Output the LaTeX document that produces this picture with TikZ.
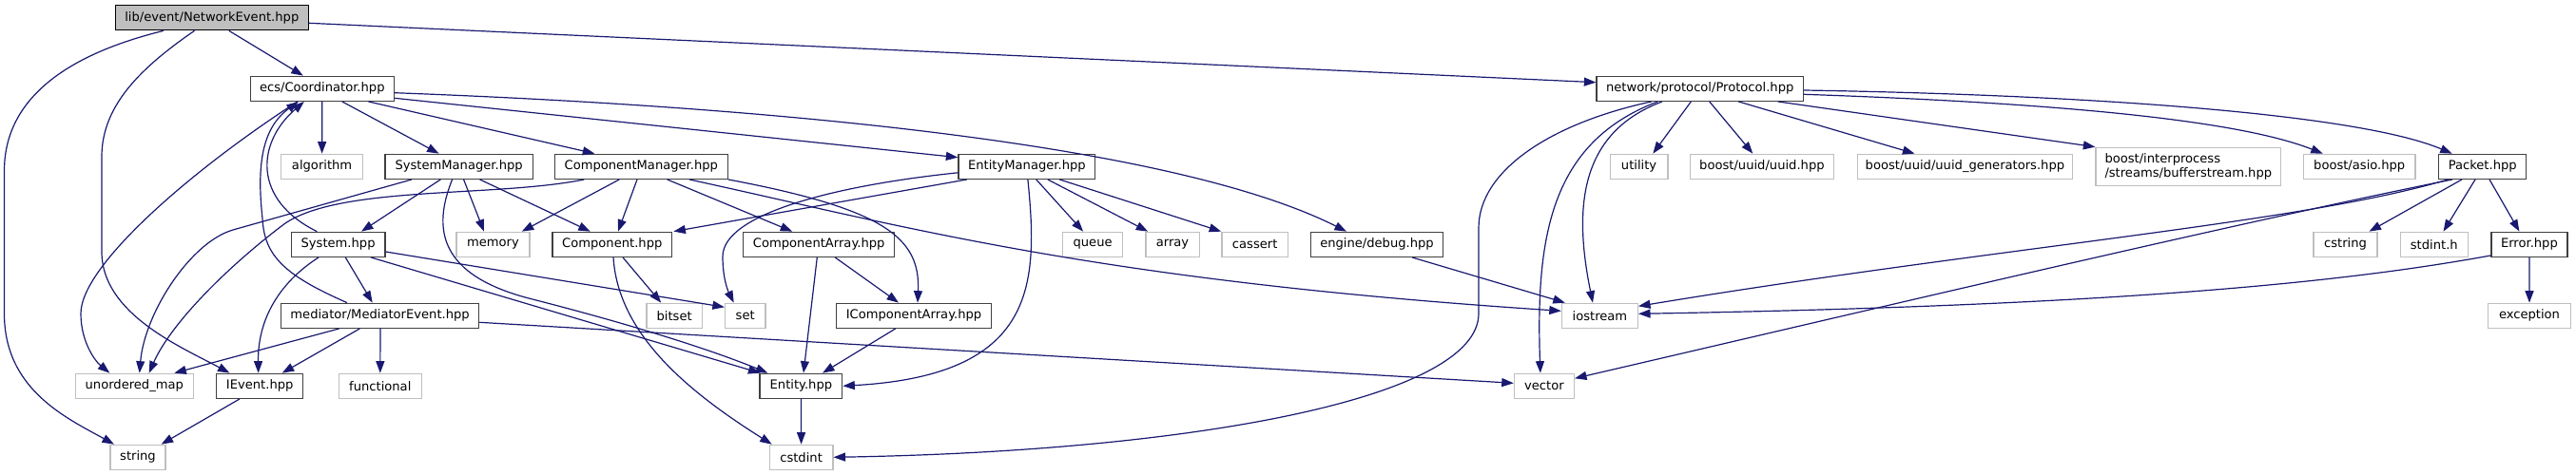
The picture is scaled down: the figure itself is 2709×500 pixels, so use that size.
\documentclass[tikz,border=0pt]{standalone}
\usepackage{fontspec}
\setmainfont{DejaVu Sans}
\usetikzlibrary{arrows.meta,calc}
\definecolor{edgec}{HTML}{191970}
\definecolor{leafc}{HTML}{BFBFBF}
\definecolor{innerc}{HTML}{404040}
\begin{document}
\begin{tikzpicture}[x=1pt,y=-1pt,
  font=\fontsize{13.1}{15}\selectfont,
  box/.style={draw=innerc, line width=1.3pt, fill=white, minimum height=26pt, inner sep=0pt},
  leaf/.style={draw=leafc, line width=1.3pt, fill=white, minimum height=26pt, inner sep=0pt},
  rootbox/.style={draw=black, fill=leafc, line width=1.3pt, minimum height=26pt, inner sep=0pt},
  edge/.style={draw=edgec, line width=1.2pt, -{Triangle[length=12.5pt,width=9pt]}}]
\useasboundingbox (0,0) rectangle (2709,500);
% row 1
\node[rootbox, minimum width=202.7pt] (ne) at (222.8,18.7) {lib/event/NetworkEvent.hpp};
% row 2
\node[box, minimum width=151pt] (coord) at (338.8,93.3) {ecs/Coordinator.hpp};
\node[box, minimum width=217.4pt] (proto) at (1787.7,93.3) {network/protocol/Protocol.hpp};
% row 3
\node[leaf, minimum width=86.2pt] (alg) at (338.6,175.3) {algorithm};
\node[box, minimum width=155.3pt] (sm) at (482.6,175.3) {SystemManager.hpp};
\node[box, minimum width=181.7pt] (cm) at (674.3,175.3) {ComponentManager.hpp};
\node[box, minimum width=143.8pt] (em) at (1079.9,175.3) {EntityManager.hpp};
\node[leaf, minimum width=60.7pt] (util) at (1723.6,175.3) {utility};
\node[leaf, minimum width=151.4pt] (uuid) at (1852.9,175.3) {boost/uuid/uuid.hpp};
\node[leaf, minimum width=226pt] (ugen) at (2066.4,175.3) {boost/uuid/uuid\_generators.hpp};
\node[leaf, minimum width=194.6pt, minimum height=40pt, align=left] (bufs) at (2301.3,175.3) {boost/interprocess\\/streams/bufferstream.hpp};
\node[leaf, minimum width=117.6pt] (asio) at (2481.2,175.3) {boost/asio.hpp};
\node[box, minimum width=92pt] (pk) at (2610.7,175.3) {Packet.hpp};
% row 4
\node[box, minimum width=98.7pt] (sys) at (355.6,257.3) {System.hpp};
\node[leaf, minimum width=77.2pt] (mem) at (518.5,257.3) {memory};
\node[box, minimum width=125.9pt] (comp) at (643.8,257.3) {Component.hpp};
\node[box, minimum width=158.9pt] (ca) at (861.2,257.3) {ComponentArray.hpp};
\node[leaf, minimum width=63.4pt] (queue) at (1149.1,257.3) {queue};
\node[leaf, minimum width=56.3pt] (arr) at (1233,257.3) {array};
\node[leaf, minimum width=69.7pt] (cass) at (1319.7,257.3) {cassert};
\node[box, minimum width=138.8pt] (dbg) at (1448,257.3) {engine/debug.hpp};
\node[leaf, minimum width=66.8pt] (cstr) at (2466.5,257.3) {cstring};
\node[leaf, minimum width=70.7pt] (stdi) at (2559.8,257.3) {stdint.h};
\node[box, minimum width=79.9pt] (err) at (2659.9,257.3) {Error.hpp};
% row 5
\node[box, minimum width=208pt] (med) at (399.6,332.3) {mediator/MediatorEvent.hpp};
\node[leaf, minimum width=58.5pt] (bits) at (709.2,332.3) {bitset};
\node[leaf, minimum width=42.4pt] (set) at (783.7,332.3) {set};
\node[box, minimum width=163pt] (ica) at (961,332.3) {IComponentArray.hpp};
\node[leaf, minimum width=79.9pt] (ios) at (1682.4,332.3) {iostream};
\node[leaf, minimum width=87pt] (exc) at (2660,332.3) {exception};
% row 6
\node[leaf, minimum width=123.7pt] (um) at (141.3,406.3) {unordered\_map};
\node[box, minimum width=91pt] (iev) at (273.2,406.3) {IEvent.hpp};
\node[leaf, minimum width=87pt] (fun) at (399.8,406.3) {functional};
\node[box, minimum width=86.6pt] (ent) at (842.4,406.3) {Entity.hpp};
\node[leaf, minimum width=63pt] (vec) at (1623.9,406.3) {vector};
% row 7
\node[leaf, minimum width=58pt] (str) at (145,481.3) {string};
\node[leaf, minimum width=66.5pt] (cst) at (842.6,481.3) {cstdint};

% ---- edges ----
% NetworkEvent
\draw[edge] ($(ne.south)+(18,0)$) -- ($(coord.north)+(-20,0)$);
\draw[edge] ($(ne.east)+(0,5.6)$) -- ($(proto.west)+(0,-6.6)$);
\draw[edge] ($(ne.south)+(-18.3,0)$) .. controls (150,70) and (107,110) .. (107,165) -- (107,265) .. controls (107,330) and (190,365) .. ($(iev.north)+(-31.7,0)$);
\draw[edge] ($(ne.south)+(-50.8,0)$) .. controls (60,60) and (4.5,110) .. (4.5,180) -- (4.5,330) .. controls (4.5,410) and (70,440) .. ($(str.north)+(-25,0)$);
% Coordinator
\draw[edge] (coord.south) -- (alg.north);
\draw[edge] ($(coord.south)+(21,0)$) -- ($(sm.north)+(-21,0)$);
\draw[edge] ($(coord.south)+(48.7,0)$) -- ($(cm.north)+(-49,0)$);
\draw[edge] ($(coord.east)+(0,10)$) -- ($(em.west)+(0,-9.6)$);
\draw[edge] ($(coord.east)+(0,4.4)$) .. controls (800,112) and (1230,150) .. ($(dbg.north)+(-32,0)$);
\draw[edge] ($(coord.south)+(-26,0)$) .. controls (200,180) and (85,280) .. (85,330) .. controls (85,360) and (100,380) .. ($(um.north)+(-26,0)$);
% SystemManager
\draw[edge] ($(sm.south)+(-19.3,0)$) -- ($(sys.north)+(24.4,0)$);
\draw[edge] ($(sm.south)+(5,0)$) -- ($(mem.north)+(-9.5,0)$);
\draw[edge] ($(sm.south)+(22,0)$) -- ($(comp.north)+(-23,0)$);
\draw[edge] ($(sm.south)+(-49.6,0)$) -- (245,242) .. controls (200,255) and (152,330) .. ($(um.north)+(5.4,0)$);
\draw[edge] ($(sm.south)+(-7,0)$) .. controls (455,240) and (460,290) .. (560,315) .. controls (650,338) and (740,365) .. ($(ent.north west)+(9,0)$);
% ComponentManager
\draw[edge] ($(cm.south)+(-23,0)$) -- ($(mem.north east)+(-9,0)$);
\draw[edge] ($(cm.south)+(-4.3,0)$) -- ($(comp.north)+(6.2,0)$);
\draw[edge] ($(cm.south)+(-60,0)$) .. controls (520,208) and (360,195) .. (300,235) .. controls (240,280) and (180,340) .. ($(um.north)+(15.4,0)$);
\draw[edge] ($(cm.south)+(27.4,0)$) -- ($(ca.north)+(-28,0)$);
\draw[edge] (cm.south east) .. controls (930,220) and (968,250) .. ($(ica.north)+(4,0)$);
\draw[edge] ($(cm.south)+(50.7,0)$) .. controls (950,238) and (1150,295) .. ($(ios.west)+(0,-5)$);
% EntityManager
\draw[edge] ($(em.south)+(-63.2,0)$) -- ($(comp.north east)+(1,0)$);
\draw[edge] ($(em.west)+(0,6.5)$) .. controls (880,195) and (760,225) .. (760,270) .. controls (760,292) and (765,305) .. ($(set.north)+(-12,0)$);
\draw[edge] ($(em.south)+(9.8,0)$) -- ($(queue.north)+(-10,0)$);
\draw[edge] ($(em.south)+(21.9,0)$) -- ($(arr.north west)+(3,0)$);
\draw[edge] ($(em.south)+(34.4,0)$) -- (cass.north west);
\draw[edge] ($(em.south)+(1,0)$) .. controls (1092,300) and (1090,395) .. (ent.east);
% System
\draw[edge] ($(sys.north)+(-22.3,0)$) .. controls (265,210) and (270,150) .. ($(coord.south)+(-19,0)$);
\draw[edge] ($(sys.south)+(7.7,0)$) -- ($(med.north)+(-7.9,0)$);
\draw[edge] ($(sys.south)+(-20.6,0)$) .. controls (290,300) and (271,340) .. ($(iev.north)+(-1.5,0)$);
\draw[edge] ($(sys.east)+(0,7.7)$) -- ($(set.west)+(0,-9)$);
\draw[edge] ($(sys.south)+(34.4,0)$) -- ($(ent.north west)+(1,0)$);
% MediatorEvent
\draw[edge] ($(med.north)+(-34.6,0)$) .. controls (300,290) and (278,270) .. (276,230) .. controls (270,175) and (275,135) .. ($(coord.south)+(-25,0)$);
\draw[edge] ($(med.south)+(-43,0)$) -- ($(um.north)+(42,0)$);
\draw[edge] ($(med.south)+(-21.3,0)$) -- ($(iev.north)+(23.5,0)$);
\draw[edge] ($(med.south)+(0.4,0)$) -- (fun.north);
\draw[edge] ($(med.east)+(0,7)$) -- ($(vec.west)+(0,-3)$);
% Component, arrays, entity
\draw[edge] ($(comp.south)+(11.2,0)$) -- ($(bits.north)+(-14,0)$);
\draw[edge] ($(comp.south)+(1.2,0)$) .. controls (650,350) and (720,410) .. ($(cst.north west)+(3,0)$);
\draw[edge] ($(ca.south)+(-1.9,0)$) -- ($(ent.north)+(2.6,0)$);
\draw[edge] ($(ca.south)+(17,0)$) -- ($(ica.north)+(-16,0)$);
\draw[edge] ($(ica.south)+(-19.3,0)$) -- ($(ent.north)+(22.6,0)$);
\draw[edge] (ent.south) -- (cst.north);
\draw[edge] ($(iev.south)+(-21.2,0)$) -- ($(str.north)+(24.6,0)$);
\draw[edge] ($(dbg.south)+(37,0)$) -- ($(ios.north west)+(4,0)$);
% Protocol
\draw[edge] ($(proto.south)+(-9.4,0)$) -- ($(util.north)+(14.7,0)$);
\draw[edge] ($(proto.south)+(10,0)$) -- ($(uuid.north)+(-9.6,0)$);
\draw[edge] ($(proto.south)+(40.6,0)$) -- ($(ugen.north)+(-53,0)$);
\draw[edge] ($(proto.south)+(82,0)$) -- (bufs.north west);
\draw[edge] ($(proto.east)+(0,6)$) .. controls (2150,108) and (2350,125) .. ($(asio.north west)+(21,0)$);
\draw[edge] ($(proto.east)+(0,1.7)$) .. controls (2200,100) and (2480,120) .. ($(pk.north)+(-32,0)$);
\draw[edge] ($(proto.south)+(-39.7,0)$) .. controls (1660,140) and (1655,220) .. ($(ios.north)+(-7.4,0)$);
\draw[edge] ($(proto.south)+(-44.4,0)$) .. controls (1630,150) and (1615,250) .. ($(vec.north)+(-4,0)$);
\draw[edge] ($(proto.south)+(-51,0)$) .. controls (1630,130) and (1555,180) .. (1555,240) -- (1555,330) .. controls (1555,420) and (1250,475) .. (cst.east);
% Packet
\draw[edge] ($(pk.south)+(-36.3,0)$) .. controls (2420,235) and (2100,260) .. ($(ios.east)+(0,-10)$);
\draw[edge] ($(pk.south)+(-31.7,0)$) .. controls (2350,235) and (1950,330) .. ($(vec.east)+(0,-8)$);
\draw[edge] ($(pk.south)+(-21.7,0)$) -- ($(cstr.north)+(25,0)$);
\draw[edge] ($(pk.south)+(-7.7,0)$) -- ($(stdi.north)+(9.7,0)$);
\draw[edge] ($(pk.south)+(7.3,0)$) -- ($(err.north)+(-10.5,0)$);
% Error
\draw[edge] ($(err.south west)+(0,-2)$) .. controls (2450,300) and (2200,322) .. ($(ios.east)+(0,-2)$);
\draw[edge] (err.south) -- (exc.north);
\end{tikzpicture}
\end{document}
